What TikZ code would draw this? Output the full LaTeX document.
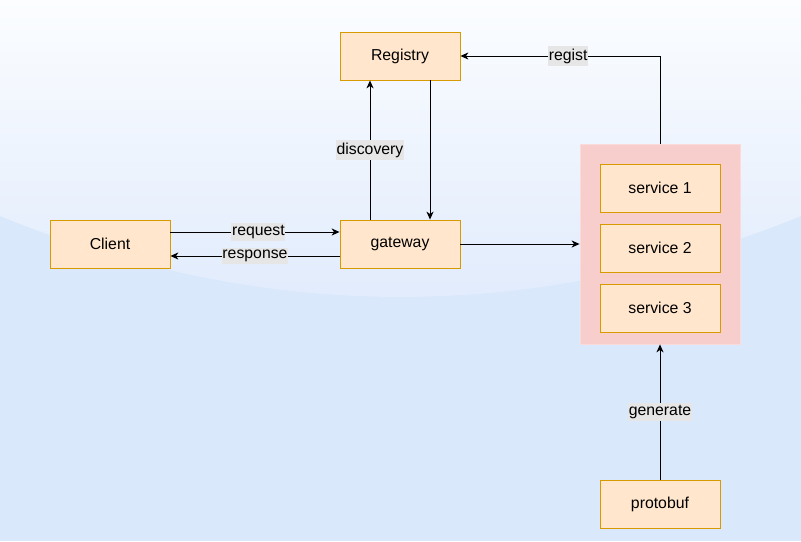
\documentclass[tikz,border=0pt]{standalone}
\usepackage{fontspec}
\setmainfont{Liberation Sans}
\usetikzlibrary{arrows.meta}

\definecolor{boxfill}{HTML}{FFE6CC}
\definecolor{boxline}{HTML}{D79B00}
\definecolor{poolfill}{HTML}{F8CECC}
\definecolor{poolline}{HTML}{FADADA}
\definecolor{labelbg}{HTML}{E6E6E6}
\definecolor{bgblue}{HTML}{DAE8FC}
\definecolor{glasstop}{HTML}{FBFDFF}
\definecolor{glassbottom}{HTML}{DFEAFC}

\tikzset{
  box/.style={draw=boxline, fill=boxfill, line width=0.5pt, minimum width=2.4cm, minimum height=0.96cm, font=\fontsize{9pt}{10pt}\selectfont},
  pool/.style={draw=poolline, fill=poolfill, line width=0.5pt, minimum width=3.2cm, minimum height=4cm},
  tag/.style={fill=labelbg, inner xsep=0.3pt, inner ysep=1.3pt, font=\fontsize{9pt}{10pt}\selectfont},
  link/.style={line width=0.55pt, -{Stealth[length=4.5pt,width=4pt,inset=1.3pt]}}
}

\begin{document}
\begin{tikzpicture}
\useasboundingbox (0, 0) rectangle (16.02, 10.82);
\fill [bgblue] (0, 0) rectangle (16.02, 10.82);
\shade [top color=glasstop, bottom color=glassbottom] (0, 10.82) -- (0, 6.5) .. controls (5.34, 4.34) and (10.68, 4.34) .. (16.02, 6.5) -- (16.02, 10.82) -- cycle;

\node (registry) at (8, 9.7) [box] {Registry};
\node (client) at (2.2, 5.94) [box] {Client};
\node (gateway) at (8, 5.94) [box] {gateway};
\node (pool) at (13.2, 5.94) [pool] {};
\node (svc1) at (13.2, 7.06) [box] {service 1};
\node (svc2) at (13.2, 5.86) [box] {service 2};
\node (svc3) at (13.2, 4.66) [box] {service 3};
\node (protobuf) at (13.2, 0.74) [box] {protobuf};

\draw [link] ([yshift=0.24cm]client.east) -- ([yshift=0.24cm]gateway.west) node [tag, pos=0.52] {request};
\draw [link] ([yshift=-0.24cm]gateway.west) -- ([yshift=-0.24cm]client.east) node [tag, midway] {response};
\draw [link] ([xshift=-0.6cm]gateway.north) -- ([xshift=-0.6cm]registry.south) node [tag, midway] {discovery};
\draw [link] ([xshift=0.6cm]registry.south) -- ([xshift=0.6cm]gateway.north);
\draw [link] (gateway) -- (pool);
\draw [link] (pool.north) |- (registry.east) node [tag, pos=0.73] {regist};
\draw [link] (protobuf) -- (pool) node [tag, midway] {generate};
\end{tikzpicture}
\end{document}
